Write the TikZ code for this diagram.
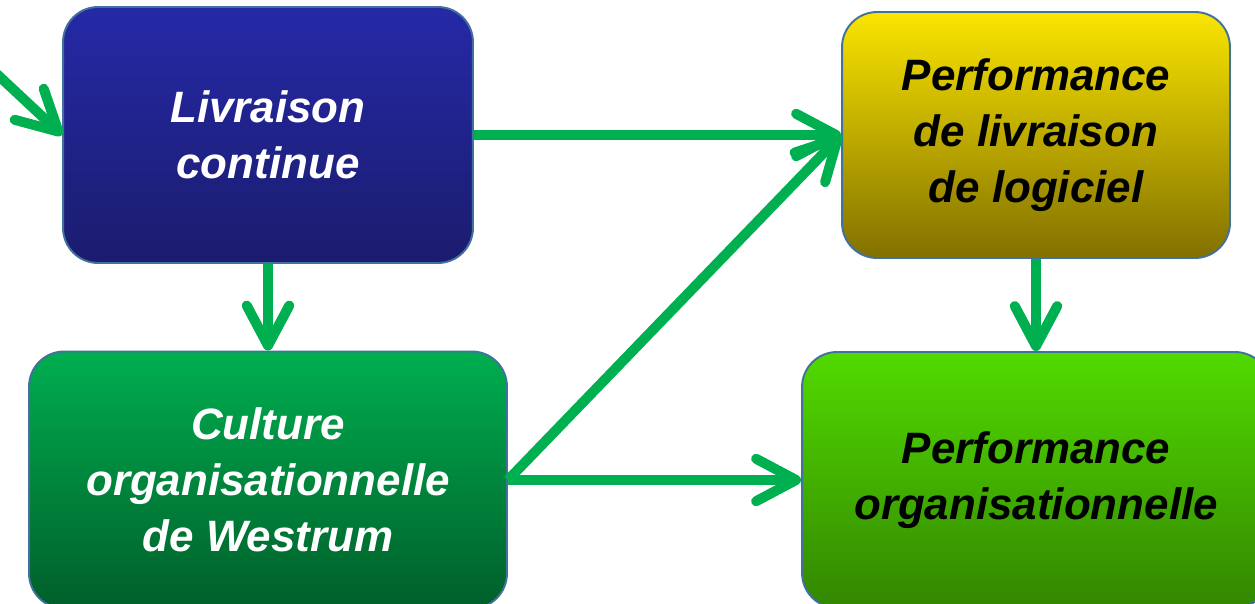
\documentclass[tikz,border=0pt]{standalone}
\usepackage{fontspec}
\setmainfont{Liberation Sans}
\usepackage{tikz}
\usetikzlibrary{arrows.meta}
\definecolor{fleche}{HTML}{00B050}
\definecolor{contour}{HTML}{41719C}
\tikzstyle{bloc}=[rectangle, rounded corners=0.7cm, draw=contour, line width=1.1pt,
    align=center, inner sep=0pt, font=\bfseries\itshape\fontsize{25}{32}\selectfont]
\newcommand{\bloc}{\node[bloc]}

\begin{document}
\begin{tikzpicture}[x=0.02cm, y=-0.02cm
    ,every edge/.style={draw=fleche, line width=5.7pt,
        -{Straight Barb[length=0.8cm, width=0.85cm, round]} }
]
\useasboundingbox (0,0) rectangle (1255,604);
\bloc[minimum width=8.2cm, minimum height=5.12cm, text=white,
    top color={rgb,255:red,37;green,41;blue,166}, bottom color={rgb,255:red,27;green,28;blue,110}]
    (lc) at (268,135) {Livraison\\continue};
\bloc[minimum width=9.56cm, minimum height=5.14cm, text=white,
    top color={rgb,255:red,0;green,174;blue,80}, bottom color={rgb,255:red,0;green,94;blue,42}]
    (cult) at (268,480) {Culture\\organisationnelle\\de Westrum};
\bloc[minimum width=7.76cm, minimum height=4.92cm, text=black,
    top color={rgb,255:red,250;green,229;blue,0}, bottom color={rgb,255:red,130;green,112;blue,0}]
    (pll) at (1036,135) {Performance\\de livraison\\de logiciel};
\bloc[minimum width=9.36cm, minimum height=5.12cm, text=black,
    top color={rgb,255:red,82;green,218;blue,0}, bottom color={rgb,255:red,50;green,134;blue,0}]
    (po) at (1036,480) {Performance\\organisationnelle};
\coordinate (entree) at (-30,49);
\path
(entree) edge (lc.west)
(lc) edge (pll)
     edge (cult)
(cult.east) edge (pll.west)
(cult) edge (po)
(pll) edge (po)
;
\end{tikzpicture}
\end{document}
